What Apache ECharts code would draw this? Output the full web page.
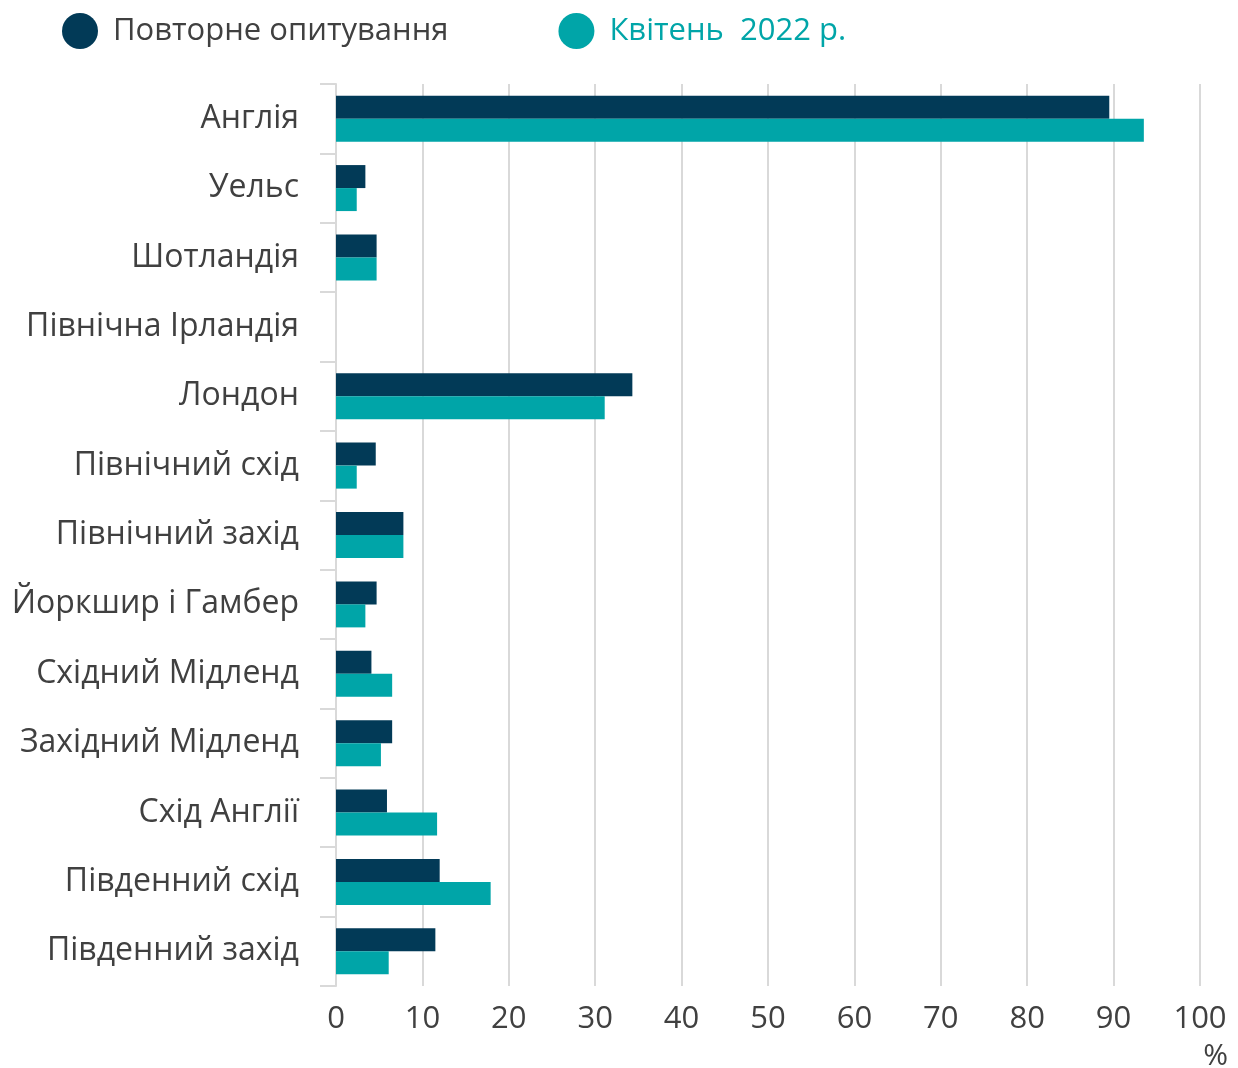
<!DOCTYPE html>
<html><head><meta charset="utf-8">
<script src="https://cdn.jsdelivr.net/npm/echarts@6/dist/echarts.min.js"></script>
<style>html,body{margin:0;padding:0;background:#fff}#c{width:1238px;height:1068px}</style>
</head><body><div id="c"></div>
<script>
const categories = ["Англія","Уельс","Шотландія","Північна Ірландія","Лондон","Північний схід","Північний захід","Йоркшир і Гамбер","Східний Мідленд","Західний Мідленд","Схід Англії","Південний схід","Південний захід"];
const seriesNames = ["Повторне опитування","Квітень  2022 р."];
const repeatSurvey = [89.5,3.4,4.7,0,34.3,4.6,7.8,4.7,4.1,6.5,5.9,12.0,11.5];
const april2022 = [93.5,2.4,4.7,0,31.1,2.4,7.8,3.4,6.5,5.2,11.7,17.9,6.1];
const xTicks = [0,10,20,30,40,50,60,70,80,90,100];

const chart = echarts.init(document.getElementById('c'), null, {renderer:'canvas'});
const font = '"Open Sans", "Noto Sans", sans-serif';
chart.setOption({
  animation:false,
  textStyle:{fontFamily:font},
  legend:{
    left:57, top:8, itemWidth:36, itemHeight:36, itemGap:110, icon:'circle',
    data:[
      {name:seriesNames[0], textStyle:{color:'#404040'}},
      {name:seriesNames[1], textStyle:{color:'#00a5a8'}}
    ],
    textStyle:{fontSize:31, fontFamily:font, padding:[0,0,0,10]}
  },
  grid:{left:336, right:38, top:84, bottom:82, containLabel:false},
  xAxis:{
    type:'value', min:xTicks[0], max:xTicks[xTicks.length-1], interval:10,
    axisLine:{show:false}, axisTick:{show:false},
    axisLabel:{fontSize:31, color:'#404040', margin:18, fontFamily:font},
    splitLine:{show:true, lineStyle:{color:'#d9d9d9', width:2}}
  },
  yAxis:{
    type:'category', data:categories, inverse:true,
    axisLine:{show:true, lineStyle:{color:'#d9d9d9', width:2}},
    axisTick:{show:true, length:16, lineStyle:{color:'#d9d9d9', width:2}},
    axisLabel:{fontSize:32, color:'#404040', margin:37, fontFamily:font}
  },
  graphic:[{type:'text', right:10, top:1041, style:{text:'%', fontSize:30, fill:'#404040', fontFamily:font}}],
  series:[
    {name:seriesNames[0], type:'bar', data:repeatSurvey, barWidth:23, barGap:'0%', itemStyle:{color:'#023a57'}},
    {name:seriesNames[1], type:'bar', data:april2022, barWidth:23, barGap:'0%', itemStyle:{color:'#00a5a8'}}
  ]
});
</script></body></html>
